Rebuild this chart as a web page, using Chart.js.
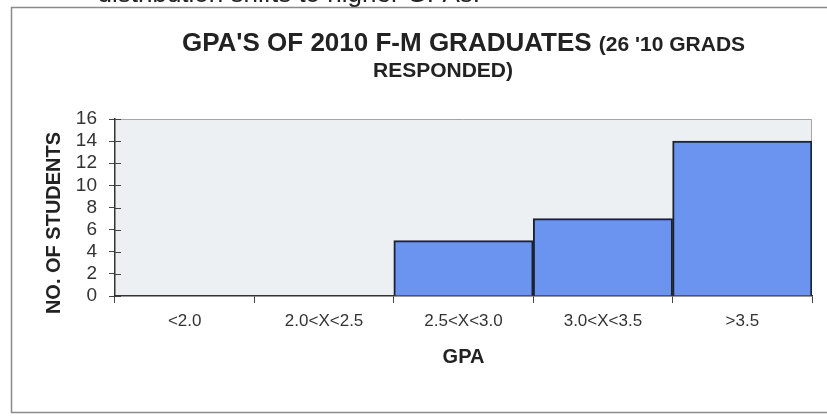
<!DOCTYPE html>
<html>
<head>
<meta charset="utf-8">
<script src="https://cdn.jsdelivr.net/npm/chart.js@4"></script>
<style>
  html, body { margin: 0; padding: 0; background: #fff; }
  #wrap { position: relative; width: 827px; height: 417px; }
</style>
</head>
<body>
<div id="wrap"><canvas id="gpaChart" width="827" height="417"></canvas></div>
<script>
// GPA ranges and how many graduates fell in each
const gpaRanges = ['<2.0', '2.0<X<2.5', '2.5<X<3.0', '3.0<X<3.5', '>3.5'];
const studentCounts = [0, 0, 5, 7, 14];
const yTicks = [0, 2, 4, 6, 8, 10, 12, 14, 16];

const FONT = '"Liberation Sans", Arial, sans-serif';

// frame, plot background, titles and the crossing tick marks
const decor = {
    id: 'decor',
    beforeDraw(chart) {
        const ctx = chart.ctx;
        const a = chart.chartArea;
        ctx.save();
        ctx.fillStyle = '#ffffff';
        ctx.fillRect(0, 0, chart.width, chart.height);

        // sentence above the chart, mostly cut off
        ctx.fillStyle = '#222';
        ctx.font = '26px ' + FONT;
        ctx.textAlign = 'right';
        ctx.textBaseline = 'alphabetic';
        ctx.fillText('distribution shifts to higher GPAs.', 480, 2);

        ctx.strokeStyle = '#8a8a8a';
        ctx.lineWidth = 1.5;
        ctx.strokeRect(11.5, 7.5, 830, 405);

        ctx.fillStyle = '#edf0f3';
        ctx.fillRect(a.left, a.top, a.right - a.left, a.bottom - a.top);
        ctx.strokeStyle = '#a5a5a5';
        ctx.lineWidth = 1;
        ctx.beginPath();
        ctx.moveTo(a.left, a.top + 0.5);
        ctx.lineTo(a.right - 0.5, a.top + 0.5);
        ctx.lineTo(a.right - 0.5, a.bottom);
        ctx.stroke();
        ctx.restore();
    },
    afterDraw(chart) {
        const ctx = chart.ctx;
        const a = chart.chartArea;
        const y = chart.scales.y;
        ctx.save();

        // inner half of the y ticks
        ctx.strokeStyle = '#444';
        ctx.lineWidth = 1;
        yTicks.forEach(v => {
            const py = Math.round(y.getPixelForValue(v)) + 0.5;
            ctx.beginPath();
            ctx.moveTo(a.left, py);
            ctx.lineTo(a.left + 6, py);
            ctx.stroke();
        });

        // title, two sizes on the first line
        ctx.fillStyle = '#222';
        ctx.textBaseline = 'middle';
        const big = 'bold 26px ' + FONT;
        const small = 'bold 21px ' + FONT;
        const partA = "GPA'S OF 2010 F-M GRADUATES ";
        const partB = "(26 '10 GRADS";
        ctx.font = big;
        const wA = ctx.measureText(partA).width;
        ctx.font = small;
        const wB = ctx.measureText(partB).width;
        const cx = (a.left + a.right) / 2;
        const startX = cx - (wA + wB) / 2;
        ctx.textAlign = 'left';
        ctx.font = big;
        ctx.fillText(partA, startX, 44);
        ctx.font = small;
        ctx.fillText(partB, startX + wA, 45);
        ctx.textAlign = 'center';
        ctx.fillText('RESPONDED)', 443, 71);

        // axis titles
        ctx.font = 'bold 20px ' + FONT;
        ctx.fillText('GPA', cx, 357);
        ctx.translate(54, 223);
        ctx.rotate(-Math.PI / 2);
        ctx.fillText('NO. OF STUDENTS', 0, 0);
        ctx.restore();
    }
};

new Chart(document.getElementById('gpaChart'), {
    type: 'bar',
    data: {
        labels: gpaRanges,
        datasets: [{
            label: 'NO. OF STUDENTS',
            data: studentCounts,
            backgroundColor: '#6a94ef',
            borderColor: '#1b2330',
            borderWidth: 2,
            barPercentage: 1,
            categoryPercentage: 1,
        }],
    },
    options: {
        responsive: false,
        animation: false,
        layout: { padding: { left: 40, top: 119, right: 15, bottom: 0 } },
        plugins: {
            legend: { display: false },
            title: { display: false },
            tooltip: { enabled: false },
        },
        scales: {
            x: {
                grid: { drawOnChartArea: false, tickLength: 7, color: '#444', offset: true },
                border: { color: '#333', width: 1.5 },
                ticks: { autoSkip: false, maxRotation: 0, color: '#333', padding: 8, font: { family: FONT, size: 17 } },
                afterFit(scale) { scale.height = 121; },
            },
            y: {
                min: 0,
                max: 16,
                grid: { drawOnChartArea: false, tickLength: 6, color: '#444' },
                border: { color: '#333', width: 1.5 },
                ticks: { autoSkip: false, stepSize: 2, color: '#333', padding: 12, font: { family: FONT, size: 19 } },
                afterFit(scale) { scale.width = 75; },
            },
        },
    },
    plugins: [decor],
});
</script>
</body>
</html>
